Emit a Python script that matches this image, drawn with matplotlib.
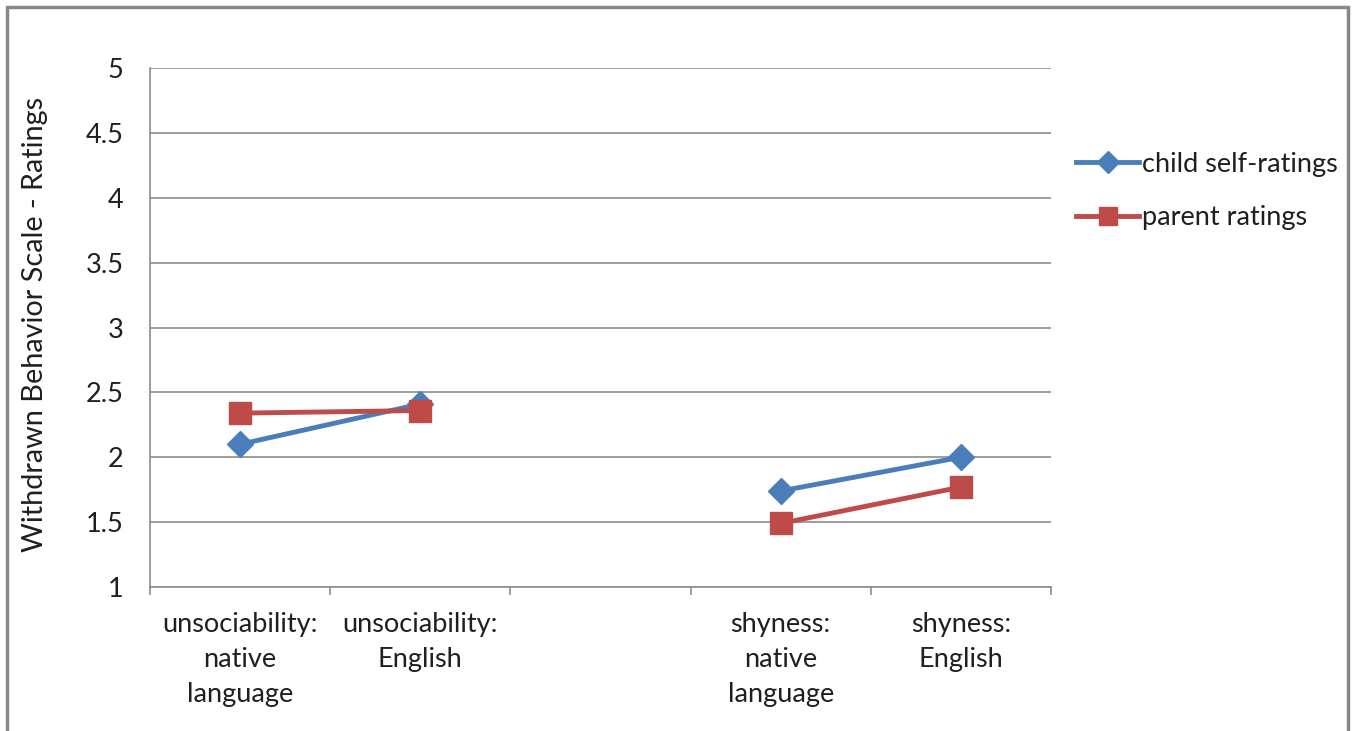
import numpy as np
import matplotlib
matplotlib.use("Agg")
import matplotlib.pyplot as plt
from matplotlib.lines import Line2D
from matplotlib.patches import Rectangle

categories = ["unsociability:\nnative\nlanguage", "unsociability:\nEnglish", "",
              "shyness:\nnative\nlanguage", "shyness:\nEnglish"]
child_self = [2.10, 2.41, np.nan, 1.74, 2.00]
parent = [2.34, 2.36, np.nan, 1.49, 1.77]
y_ticks = [1, 1.5, 2, 2.5, 3, 3.5, 4, 4.5, 5]
y_tick_labels = ["1", "1.5", "2", "2.5", "3", "3.5", "4", "4.5", "5"]
series_names = ["child self-ratings", "parent ratings"]

BLUE = "#4A7EBB"
RED = "#BE4B48"
GRID = "#8C8C8C"
TXT = "#1F1F1F"

plt.rcParams['font.family'] = ['Lato', 'DejaVu Sans']
FS = 19.5

fig = plt.figure(figsize=(13.55, 7.31), dpi=100)
ax = fig.add_axes([150/1355, 1-587/731, (1051-150)/1355, (587-68)/731])

x = np.arange(len(categories))
ax.plot(x, child_self, color=BLUE, lw=3.5, marker="D", ms=13, mfc=BLUE, mec=BLUE, zorder=3)
ax.plot(x, parent, color=RED, lw=3.5, marker="s", ms=16, mfc=RED, mec=RED, zorder=4)

ax.set_xlim(-0.5, len(categories) - 0.5)
ax.set_ylim(1, 5)
ax.set_yticks(y_ticks)
ax.set_yticklabels(y_tick_labels, fontsize=FS, color=TXT)
ax.tick_params(axis="y", length=0, pad=19)
ax.yaxis.grid(True, color=GRID, lw=1.2)
ax.set_axisbelow(True)

ax.set_xticks(np.arange(len(categories) + 1) - 0.5)
ax.set_xticklabels([])
ax.tick_params(axis="x", which="major", length=6, width=1.2, color=GRID, direction="out")
ax.set_xticks(x, minor=True)
ax.set_xticklabels(categories, minor=True, fontsize=FS, color=TXT, linespacing=1.5)
ax.tick_params(axis="x", which="minor", length=0, pad=18)

for s in ["top", "right"]:
    ax.spines[s].set_visible(False)
for s in ["left", "bottom"]:
    ax.spines[s].set_color(GRID)
    ax.spines[s].set_linewidth(1.2)

ax.set_ylabel("Withdrawn Behavior Scale - Ratings", fontsize=20.8, color=TXT)
ax.yaxis.set_label_coords(-(150-48)/901, 0.505)

handles = [Line2D([], [], color=BLUE, lw=3.5, marker="D", ms=11),
           Line2D([], [], color=RED, lw=3.5, marker="s", ms=13)]
leg = fig.legend(handles, series_names, loc="center left",
                 bbox_to_anchor=(1052/1355, 1-191/731), frameon=False,
                 fontsize=FS, handlelength=2.3, handletextpad=0.12,
                 labelspacing=1.05, labelcolor=TXT)

fig.patches.append(Rectangle((7/1355, -0.05), (1348-7)/1355, 1.05 - 7/731,
                             transform=fig.transFigure, fill=False,
                             edgecolor="#888888", lw=2.5))

fig.savefig("out.png", dpi=100)
